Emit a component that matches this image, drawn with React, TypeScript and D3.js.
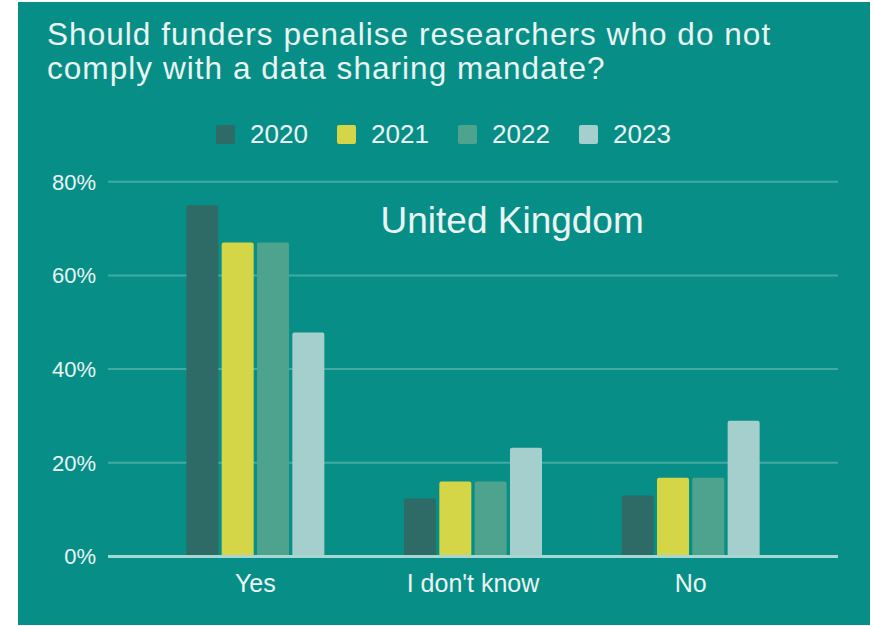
import React from "react";
import * as d3 from "d3";

const titleLines = [
  "Should funders penalise researchers who do not",
  "comply with a data sharing mandate?",
];
const subtitle = "United Kingdom";
const categories = ["Yes", "I don't know", "No"];
const years = ["2020", "2021", "2022", "2023"];
const v2020 = [75, 12.4, 13];
const v2021 = [67, 16, 16.8];
const v2022 = [67, 16, 16.8];
const v2023 = [47.8, 23.2, 29];
const yTicks = [0, 20, 40, 60, 80];
const colors = ["#2f6b66", "#d4d647", "#4ea38f", "#a4cfcc"];

const W = 875;
const H = 626;
const FONT = "'Liberation Sans', Arial, Helvetica, sans-serif";
const TEXT = "#eaf4f3";

export default function App() {
  const series = [v2020, v2021, v2022, v2023];
  const y = d3.scaleLinear().domain([0, 80]).range([556.5, 181.7]);
  const x0 = d3
    .scaleBand<string>()
    .domain(categories)
    .range([108, 838])
    .paddingInner(0.366)
    .paddingOuter(0.36);
  const x1 = d3
    .scaleBand<string>()
    .domain(years)
    .range([0, x0.bandwidth()])
    .paddingInner(0.094)
    .paddingOuter(0);

  return (
    <svg
      width={W}
      height={H}
      style={{ position: "absolute", left: 0, top: 0, display: "block" }}
    >
      <rect x={0} y={0} width={W} height={H} fill="#ffffff" />
      <rect x={18} y={2} width={852} height={623} fill="#078f87" />

      {titleLines.map((t, i) => (
        <text
          key={i}
          x={47}
          y={44.5 + i * 34}
          fill={TEXT}
          fontFamily={FONT}
          fontSize={31.5}
          letterSpacing={1.05}
        >
          {t}
        </text>
      ))}

      {/* legend */}
      {years.map((yr, i) => (
        <g key={yr} transform={`translate(${216 + i * 121},0)`}>
          <rect x={0} y={125} width={19} height={19} rx={2} fill={colors[i]} />
          <text
            x={34}
            y={143}
            fill={TEXT}
            fontFamily={FONT}
            fontSize={26}
          >
            {yr}
          </text>
        </g>
      ))}

      {/* gridlines */}
      {yTicks
        .filter((t) => t !== 0)
        .map((t) => (
          <line
            key={t}
            x1={108}
            x2={838}
            y1={y(t)}
            y2={y(t)}
            stroke="#40aba3"
            strokeWidth={2}
          />
        ))}
      {yTicks.map((t) => (
        <text
          key={t}
          x={96}
          y={y(t)}
          dy="0.36em"
          textAnchor="end"
          fill={TEXT}
          fontFamily={FONT}
          fontSize={22}
        >
          {d3.format(".0%")(t / 100)}
        </text>
      ))}

      <text
        x={380.5}
        y={232.7}
        fill={TEXT}
        fontFamily={FONT}
        fontSize={37}
      >
        {subtitle}
      </text>

      {/* bars */}
      {categories.map((c, ci) => (
        <g key={c} transform={`translate(${x0(c)},0)`}>
          {years.map((yr, si) => {
            const v = series[si][ci];
            return (
              <rect
                key={yr}
                x={x1(yr)}
                y={y(v)}
                width={x1.bandwidth()}
                height={y(0) - y(v)}
                rx={2}
                fill={colors[si]}
              />
            );
          })}
          <text
            x={x0.bandwidth() / 2}
            y={592}
            textAnchor="middle"
            fill={TEXT}
            fontFamily={FONT}
            fontSize={25}
          >
            {c}
          </text>
        </g>
      ))}

      {/* baseline */}
      <line
        x1={108}
        x2={838}
        y1={y(0)}
        y2={y(0)}
        stroke="#a6d7d2"
        strokeWidth={3}
      />
    </svg>
  );
}
